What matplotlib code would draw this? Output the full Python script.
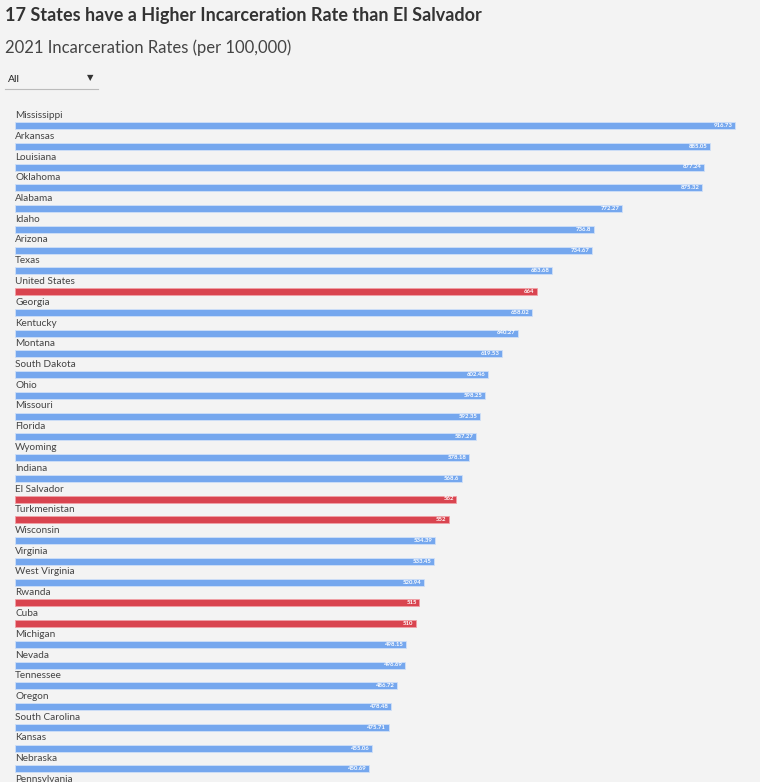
import matplotlib.pyplot as plt

names = ["Mississippi", "Arkansas", "Louisiana", "Oklahoma", "Alabama", "Idaho", "Arizona",
         "Texas", "United States", "Georgia", "Kentucky", "Montana", "South Dakota", "Ohio",
         "Missouri", "Florida", "Wyoming", "Indiana", "El Salvador", "Turkmenistan",
         "Wisconsin", "Virginia", "West Virginia", "Rwanda", "Cuba", "Michigan", "Nevada",
         "Tennessee", "Oregon", "South Carolina", "Kansas", "Nebraska", "Pennsylvania"]
values = [916.73, 885.05, 877.24, 875.32, 772.27, 736.8, 734.67, 683.68, 664, 658.02,
          640.27, 619.53, 602.46, 598.25, 592.35, 587.27, 578.18, 568.6, 562, 552,
          534.39, 533.45, 520.94, 515, 510, 498.15, 496.69, 486.72, 478.48, 475.71,
          455.06, 450.69, 441.0]
highlight = {"United States", "El Salvador", "Turkmenistan", "Rwanda", "Cuba"}

BG = "#f3f3f3"
BLUE = "#75a7ee"
RED = "#d9444f"
W, H = 760, 782
PX_PER_UNIT = 0.7854

fig = plt.figure(figsize=(W / 100, H / 100), dpi=100, facecolor=BG)
ax = fig.add_axes([15 / W, 0, (W - 15) / W, 1])
ax.set_facecolor(BG)
ax.set_xlim(0, (W - 15) / PX_PER_UNIT)
ax.set_ylim(H, 0)
ax.axis("off")

for i, (n, v) in enumerate(zip(names, values)):
    yc = 125.5 + i * 20.75
    c = RED if n in highlight else BLUE
    ax.barh(yc, v, height=7, color=c, edgecolor="#cfe0f8" if c == BLUE else "#f0a0a6", linewidth=0.6)
    ax.text(0, yc - 10, n, fontsize=7.2, color="#444444", va="center", ha="left", family="Lato")
    if yc + 4 < H:
        ax.text(v - 3, yc, f"{v:g}", fontsize=4.3, color="white", fontweight="bold",
                va="center", ha="right", family="Lato")

fig.text(5 / W, 1 - 15 / H, "17 States have a Higher Incarceration Rate than El Salvador",
         fontsize=13, fontweight="bold", color="#333333", va="center", family="Lato")
fig.text(5 / W, 1 - 48 / H, "2021 Incarceration Rates (per 100,000)",
         fontsize=12, color="#444444", va="center", family="Lato")
fig.text(8 / W, 1 - 79 / H, "All", fontsize=7.5, color="#222222", va="center", family="Lato")
fig.text(90 / W, 1 - 78 / H, "\u25bc", fontsize=6, color="#333333", va="center", ha="center")
fig.add_artist(plt.Line2D([5 / W, 98 / W], [1 - 89 / H, 1 - 89 / H], color="#bbbbbb", lw=0.8))

fig.savefig("out.png", dpi=100, facecolor=BG)
